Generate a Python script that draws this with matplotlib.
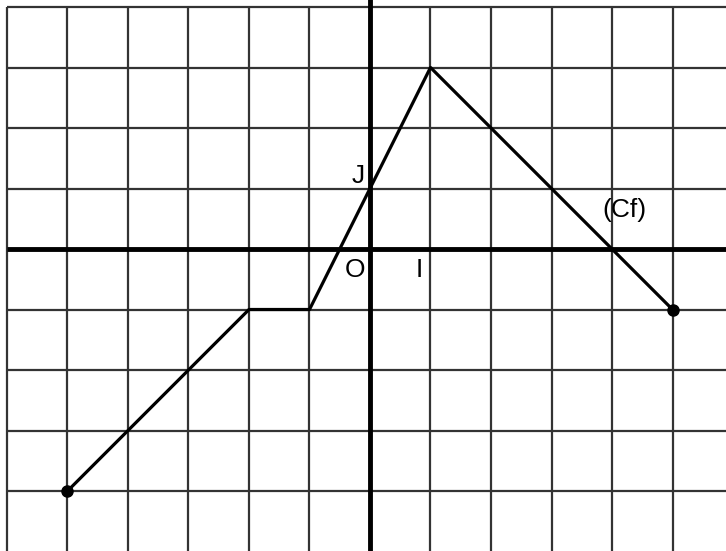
import matplotlib
matplotlib.use("Agg")
import matplotlib.pyplot as plt

# points of the curve (Cf)
xs = [-5, -2, -1, 1, 5]
ys = [-4, -1, -1, 3, -1]
ends_x = [-5, 5]
ends_y = [-4, -1]

grid_x = list(range(-6, 6))
grid_y = list(range(-4, 5))

plt.rcParams['font.family'] = ['Liberation Sans', 'DejaVu Sans']

fig = plt.figure(figsize=(7.26, 5.51), dpi=100)
ax = fig.add_axes([0, 0, 1, 1])
u = 60.5
ax.set_xlim(-6 - 7 / u, (726 - 370) / u)
ax.set_ylim(-(551 - 249) / u, 4 + 7 / u)
ax.axis('off')

# grid
for gx in grid_x:
    if gx != 0:
        ax.plot([gx, gx], [-6, 4], color='#333333', lw=1.6, solid_capstyle='butt')
for gy in grid_y:
    if gy != 0:
        ax.plot([-6, 7], [gy, gy], color='#333333', lw=1.6, solid_capstyle='butt')

# axes
ax.plot([-6, 7], [0, 0], color='black', lw=3.5, solid_capstyle='butt')
ax.plot([0, 0], [-6, 4.2], color='black', lw=3.5, solid_capstyle='butt')

# curve
ax.plot(xs, ys, color='black', lw=2.3)
ax.plot(ends_x, ends_y, 'o', color='black', ms=8)

ax.text(-0.2, 1.2, 'J', fontsize=19, ha='center', va='center')
ax.text(-0.25, -0.35, 'O', fontsize=19, ha='center', va='center')
ax.text(0.82, -0.35, 'I', fontsize=19, ha='center', va='center')
ax.text(4.2, 0.65, '(Cf)', fontsize=19, ha='center', va='center')

fig.savefig('out.png', dpi=100)
